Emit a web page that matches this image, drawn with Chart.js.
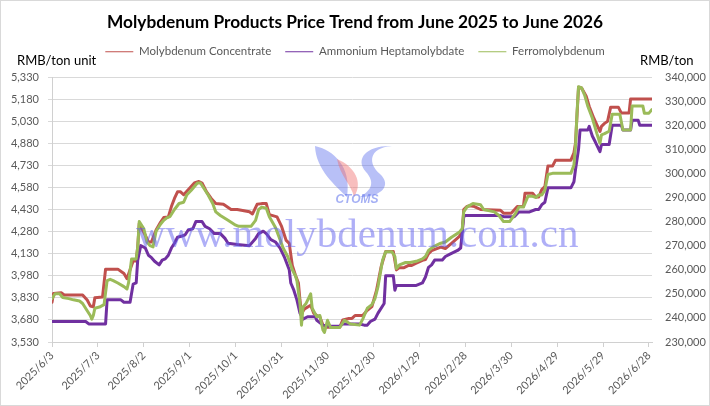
<!DOCTYPE html>
<html><head><meta charset="utf-8">
<script src="https://cdn.jsdelivr.net/npm/chart.js@4.4.1/dist/chart.umd.min.js"></script>
<style>html,body{margin:0;padding:0;background:#fff}#wrap{width:710px;height:406px}</style>
</head><body><div id="wrap"><canvas id="c" width="710" height="406"></canvas></div>
<script>
const START = Date.UTC(2025, 5, 3);
const TITLE = 'Molybdenum Products Price Trend from June 2025 to June 2026';
const seriesNames = ['Molybdenum Concentrate', 'Ammonium Heptamolybdate', 'Ferromolybdenum'];
const leftUnit = 'RMB/ton unit';
const rightUnit = 'RMB/ton';
const watermark = 'www.molybdenum.com.cn';
const logoText = 'CTOMS';

// days after 2025/6/3
const concDays = [0,1,6,8,20,23,25,27,28,33,35,43,47,49,51,53,55,56,57,61,63,65,68,71,73,76,78,80,82,84,86,89,93,96,98,101,104,107,112,117,121,129,131,134,137,140,142,147,150,153,155,157,159,161,162,163,165,169,171,173,175,177,180,188,190,194,196,198,203,206,209,212,215,218,223,225,227,230,233,235,238,242,244,246,248,254,257,261,266,268,269,271,273,276,280,293,295,300,304,308,309,314,316,318,320,322,324,327,329,339,341,342,344,346,349,351,354,356,358,359,361,363,365,370,372,377,378,392];
const concPrice = [3800,3860,3865,3850,3850,3815,3775,3770,3830,3835,4025,4025,3995,3960,4020,4080,4080,4175,4335,4255,4210,4210,4290,4345,4375,4380,4450,4505,4550,4550,4530,4565,4610,4620,4610,4550,4505,4470,4465,4430,4430,4415,4400,4465,4470,4470,4395,4380,4315,4220,4200,4050,3985,3930,3815,3725,3755,3780,3725,3710,3700,3645,3630,3630,3680,3690,3690,3710,3710,3745,3770,3880,4040,4145,4145,4020,4035,4035,4050,4050,4065,4085,4090,4130,4150,4175,4165,4200,4245,4280,4430,4450,4455,4450,4430,4425,4405,4405,4450,4450,4540,4540,4515,4515,4565,4585,4725,4725,4765,4765,4815,4880,5260,5255,5200,5130,5050,5005,4960,4995,5015,5030,5125,5125,5085,5085,5180,5180];

const ahmDays = [0,22,24,35,36,45,47,51,53,55,56,58,61,63,65,67,70,72,74,76,78,80,82,85,87,89,92,94,98,100,103,106,110,113,115,121,129,133,135,138,140,143,146,149,152,155,156,158,160,162,164,167,172,173,177,182,188,190,201,204,206,208,211,213,217,218,223,224,225,238,242,244,246,248,250,255,257,260,265,267,269,270,293,295,302,305,312,316,318,320,322,324,339,341,342,344,345,350,351,353,355,358,359,364,366,372,373,378,379,383,384,392];
const ahmPrice = [238500,238500,237500,237500,247500,247500,246500,246500,254000,254500,264000,270000,269000,266000,265000,263500,262000,264000,264500,266000,269000,271000,273500,274000,274500,276500,277000,280000,280000,278000,277000,275000,275000,273000,271000,270500,270000,273000,275000,276000,275000,272500,271500,269000,265000,260000,254500,251500,247500,242000,239500,240500,240500,239000,237000,236500,236500,237500,237500,237000,237000,238500,239500,242000,246000,257500,257500,251500,253500,253500,254500,257000,261000,262000,264000,264000,265500,266500,268000,269000,282000,282500,282500,282000,282000,284000,284000,285000,285000,287000,288000,294000,294000,296500,301500,310000,318000,318000,319500,315500,313000,309000,312000,312000,320000,320000,318000,318000,322000,322000,320000,320000];

const feDays = [0,2,5,7,11,14,18,20,23,25,26,27,28,31,34,36,38,40,43,47,49,50,52,55,56,57,60,62,64,66,68,71,73,75,77,80,83,86,88,91,95,97,99,102,105,107,110,115,120,122,130,133,135,137,140,142,146,149,151,154,157,159,160,162,163,164,166,169,170,173,175,177,178,180,182,188,191,195,201,203,206,209,211,213,216,218,222,224,225,227,231,234,238,242,244,246,249,254,257,261,266,268,269,271,275,280,282,289,292,295,299,303,305,308,311,314,316,318,320,322,324,327,339,341,342,343,344,346,348,350,353,356,358,359,361,364,366,371,373,378,379,386,387,390,392];
const fePrice = [248000,250000,250000,248500,248000,247500,247000,246000,243000,241000,239500,241000,244000,244500,245500,255500,256000,255500,254500,253000,252000,254500,264500,264500,269500,280000,277000,271500,270000,269500,276000,279000,280500,281500,282000,285000,287500,288000,291000,293000,296000,296000,294000,291000,287500,284000,282500,280500,278500,278000,278000,280500,285000,286000,285500,282000,277500,272500,269000,265500,260000,257500,255500,246000,237000,244500,246000,250000,244000,240500,241000,235000,234000,239000,236000,236000,239000,237500,237000,239500,244000,245500,248000,253000,264000,267500,267500,265500,260500,262000,263000,263000,263500,264500,265500,268000,269500,271000,271500,273500,275500,277000,284000,286000,287500,287000,285000,284000,282500,280000,280000,283500,286000,286000,290500,290500,290000,291000,291000,293000,299500,300000,300000,303500,311000,325000,336000,335500,332500,328000,323000,316500,312500,316000,316500,317500,324500,324500,318000,318000,328000,328000,325000,325000,326500];

const xMin = 0, xMax = 392, xStep = 30;
const leftMin = 3530, leftMax = 5330, leftStep = 150;
const rightMin = 230000, rightMax = 340000, rightStep = 10000;

function dayLabel(d) {
  const dt = new Date(START + d * 86400000);
  return dt.getUTCFullYear() + '/' + (dt.getUTCMonth() + 1) + '/' + dt.getUTCDate();
}
const zip = (xs, ys) => xs.map((x, i) => ({x: x, y: ys[i]}));

const TICK_FONT = {family: 'Lato', size: 11};
const GREY = '#595959';

const decor = {
  id: 'decor',
  afterDatasetsDraw(chart) {
    const ctx = chart.ctx;
    ctx.save();
    // CTOMS logo (watermark)
    ctx.fillStyle = 'rgba(85,105,235,0.42)';
    ctx.beginPath();
    ctx.moveTo(315, 146);
    ctx.bezierCurveTo(333, 150, 352, 166, 347, 197);
    ctx.bezierCurveTo(336, 186, 316, 170, 315, 146);
    ctx.fill();
    ctx.beginPath();
    ctx.moveTo(392, 146);
    ctx.bezierCurveTo(368, 148, 368, 164, 380, 174);
    ctx.bezierCurveTo(392, 185, 382, 197, 360, 197);
    ctx.bezierCurveTo(372, 190, 375, 182, 366, 172);
    ctx.bezierCurveTo(354, 158, 368, 145, 392, 146);
    ctx.fill();
    ctx.fillStyle = 'rgba(240,110,110,0.45)';
    ctx.beginPath();
    ctx.moveTo(337, 159);
    ctx.bezierCurveTo(354, 166, 364, 182, 354, 197);
    ctx.bezierCurveTo(351, 184, 340, 176, 337, 159);
    ctx.fill();
    ctx.fillStyle = 'rgba(90,110,235,0.55)';
    ctx.font = 'italic bold 12px "Liberation Sans"';
    ctx.textAlign = 'center'; ctx.textBaseline = 'middle';
    ctx.fillText(logoText, 357, 200);
    ctx.fillStyle = 'rgba(95,95,240,0.5)';
    ctx.font = '41px "Liberation Serif"';
    ctx.textAlign = 'left'; ctx.textBaseline = 'alphabetic';
    ctx.fillText(watermark, 136, 247);
    ctx.restore();
  },
  afterDraw(chart) {
    const ctx = chart.ctx;
    ctx.save();
    ctx.fillStyle = '#000';
    ctx.font = '13px Lato';
    ctx.textBaseline = 'middle';
    ctx.textAlign = 'left';
    ctx.fillText(leftUnit, 17, 61);
    ctx.fillText(rightUnit, 640, 61);
    ctx.strokeStyle = '#d9d9d9';
    ctx.lineWidth = 1;
    ctx.strokeRect(0.5, 0.5, 709, 405);
    ctx.restore();
  }
};

new Chart(document.getElementById('c'), {
  type: 'line',
  data: {
    datasets: [
      {label: seriesNames[0], data: zip(concDays, concPrice), yAxisID: 'y', borderColor: '#c0504d', backgroundColor: '#c0504d', order: 2},
      {label: seriesNames[1], data: zip(ahmDays, ahmPrice), yAxisID: 'y2', borderColor: '#7030a0', backgroundColor: '#7030a0', order: 1},
      {label: seriesNames[2], data: zip(feDays, fePrice), yAxisID: 'y2', borderColor: '#9bbb59', backgroundColor: '#9bbb59', order: 0}
    ]
  },
  options: {
    responsive: false,
    animation: false,
    devicePixelRatio: 1,
    elements: {line: {borderWidth: 3, tension: 0, borderJoinStyle: 'round', borderCapStyle: 'round'}, point: {radius: 0}},
    layout: {padding: 0},
    plugins: {
      title: {display: true, text: TITLE, color: '#000', weight: 2000, font: {family: 'Lato', size: 17.3, weight: 'bold', lineHeight: '20px'}, padding: {top: 12, bottom: 0}},
      legend: {
        display: true, position: 'top', align: 'center', weight: 1000,
        labels: {
          usePointStyle: true, pointStyle: 'line', pointStyleWidth: 28,
          font: {family: 'Lato', size: 11.5}, color: GREY, padding: 14,
          sort: (a, b) => a.datasetIndex - b.datasetIndex
        }
      },
      subtitle: {display: true, text: '', position: 'top', weight: 500, font: {size: 10, lineHeight: 0}, padding: {top: 0, bottom: 9.5}},
      tooltip: {enabled: false}
    },
    scales: {
      x: {
        type: 'linear', min: xMin, max: xMax,
        afterFit(s) { s.height = 64; },
        afterBuildTicks(s) { const t = []; for (let v = xMin; v <= xMax; v += xStep) t.push({value: v}); s.ticks = t; },
        ticks: {autoSkip: false, minRotation: 45, maxRotation: 45, callback: v => dayLabel(v), font: TICK_FONT, color: GREY, padding: 2},
        grid: {drawOnChartArea: false, drawTicks: true, tickLength: 5, color: '#d0d0d0'},
        border: {display: true, color: '#d0d0d0'}
      },
      y: {
        position: 'left', min: leftMin, max: leftMax,
        afterFit(s) { s.width = 52; },
        ticks: {stepSize: leftStep, font: TICK_FONT, color: GREY, padding: 9},
        grid: {color: '#d9d9d9', tickLength: 4},
        border: {display: true, color: '#d0d0d0'}
      },
      y2: {
        position: 'right', min: rightMin, max: rightMax,
        afterFit(s) { s.width = 58; },
        ticks: {stepSize: rightStep, font: TICK_FONT, color: GREY, padding: 13},
        grid: {display: false, drawTicks: false},
        border: {display: false}
      }
    }
  },
  plugins: [decor]
});
</script>
</body></html>
